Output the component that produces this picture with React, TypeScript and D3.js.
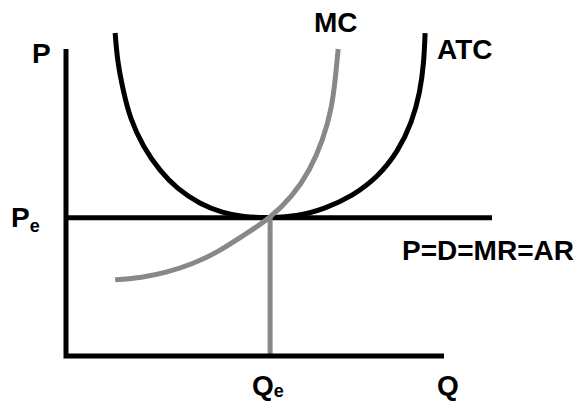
import React from "react";
import * as d3 from "d3";

const W = 581;
const H = 402;

// Economic values (abstract units)
const pe = 4.5;
const qe = 5.4;
const demandEnd = 11.27;

const atcQ = [1.3, 1.36, 1.51, 1.69, 2.04, 2.49, 2.94, 3.54, 4.15, 4.68, 5.4, 6.14, 6.85, 7.57, 8.25, 8.78, 9.15, 9.37, 9.47, 9.5];
const atcP = [10.52, 9.6, 8.66, 7.75, 6.81, 6.02, 5.45, 4.95, 4.66, 4.53, 4.5, 4.55, 4.8, 5.2, 5.83, 6.65, 7.6, 8.6, 9.6, 10.52];

const mcQ = [1.3, 2.0, 2.67, 3.35, 3.99, 4.79, 5.4, 5.98, 6.46, 6.8, 7.04, 7.14, 7.2];
const mcP = [2.48, 2.55, 2.72, 3.0, 3.36, 4.0, 4.5, 5.18, 6.06, 7.04, 8.11, 9.2, 10.0];

export default function App() {
  const x = d3.scaleLinear().domain([0, 10]).range([66, 444]);
  const y = d3.scaleLinear().domain([0, 10]).range([356, 49]);

  const line = d3
    .line<[number, number]>()
    .x((d) => x(d[0]))
    .y((d) => y(d[1]))
    .curve(d3.curveBasis);

  const atc = line(atcQ.map((q, i) => [q, atcP[i]] as [number, number])) || "";
  const mc = line(mcQ.map((q, i) => [q, mcP[i]] as [number, number])) || "";

  const axisPath = `M${x(0)},${y(10)} V${y(0)} H${x(10)}`;
  const font = "'Liberation Sans', Arial, sans-serif";

  return (
    <svg
      width={W}
      height={H}
      style={{ position: "absolute", left: 0, top: 0, display: "block" }}
      fontFamily={font}
      fontWeight="bold"
    >
      <rect width={W} height={H} fill="#fff" />
      {/* ATC */}
      <path d={atc} fill="none" stroke="#000" strokeWidth={5} />
      {/* Demand line */}
      <line x1={x(0)} x2={x(demandEnd)} y1={y(pe)} y2={y(pe)} stroke="#000" strokeWidth={5} />
      {/* Qe vertical */}
      <line x1={x(qe)} x2={x(qe)} y1={y(pe)} y2={y(0)} stroke="#888" strokeWidth={5} />
      {/* MC */}
      <path d={mc} fill="none" stroke="#888" strokeWidth={5} />
      {/* Axes */}
      <path d={axisPath} fill="none" stroke="#000" strokeWidth={5} strokeLinejoin="miter" />

      <text x={32} y={63} fontSize={28}>P</text>
      <text x={314} y={32} fontSize={28}>MC</text>
      <text x={437} y={59} fontSize={28}>ATC</text>
      <text x={402} y={260} fontSize={28}>P=D=MR=AR</text>
      <text x={11} y={227} fontSize={28}>
        P<tspan fontSize={18} dy={5}>e</tspan>
      </text>
      <text x={252} y={395} fontSize={28}>
        Q<tspan fontSize={18} dy={2}>e</tspan>
      </text>
      <text x={437} y={395} fontSize={28}>Q</text>
    </svg>
  );
}
